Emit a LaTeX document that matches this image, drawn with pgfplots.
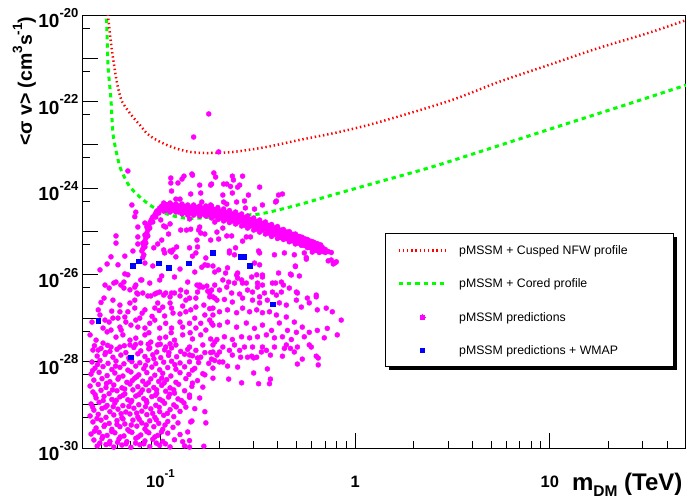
\documentclass[border=0pt]{standalone}
\usepackage{fontspec}
\setmainfont{Liberation Sans}
\usepackage{pgfplots}
\pgfplotsset{compat=1.18}
\definecolor{mag}{RGB}{255,0,255}
\definecolor{rred}{RGB}{255,0,0}
\definecolor{ggreen}{RGB}{0,255,0}
\definecolor{bblue}{RGB}{0,0,255}
\pgfplotsset{
  redleg/.style={legend image code/.code={\draw[draw=rred, line width=2.5pt, dash pattern=on 1.4pt off 2.8pt] (0pt,0pt) -- (48pt,0pt);}},
  greenleg/.style={legend image code/.code={\draw[draw=ggreen, line width=3pt, dash pattern=on 4.3pt off 4pt] (0pt,0pt) -- (48pt,0pt);}},
  magleg/.style={legend image code/.code={\path[mark=*, mark size=2.5pt, mark options={draw=mag, fill=mag, line width=0pt}] plot coordinates {(24pt,0pt)};}},
  blueleg/.style={legend image code/.code={\path[mark=square*, mark size=2.3pt, mark options={draw=bblue, fill=bblue, line width=0pt}] plot coordinates {(24pt,0pt)};}},
}
\newcommand{\tl}[1]{\fontsize{19}{19}\selectfont\bfseries 10\raisebox{0.55em}{\fontsize{13}{13}\selectfont\bfseries #1}}
\newcommand{\xl}[1]{\fontsize{16.5}{16.5}\selectfont\bfseries 10\raisebox{0.55em}{\fontsize{11.5}{11.5}\selectfont\bfseries #1}}
\newcommand{\tn}[1]{\fontsize{16.5}{16.5}\selectfont\bfseries #1}
\newcommand{\ysup}[1]{\raisebox{0.5em}{\fontsize{13.5}{13.5}\selectfont\bfseries #1}}
\newcommand{\lent}[1]{\makebox[205pt][l]{\rule[-3pt]{0pt}{12pt}#1}}
\begin{document}
\begin{tikzpicture}
\useasboundingbox (-83pt,-52pt) rectangle (606pt,448pt);
\begin{axis}[
  at={(0pt,0pt)}, anchor=south west,
  scale only axis, width=603pt, height=433pt,
  xmode=log, ymode=log,
  xmin=0.04, xmax=50, ymin=1e-30, ymax=1e-20,
  axis line style={line width=1pt},
  tick align=inside, tick pos=left,
  major tick length=15pt, minor tick length=7.5pt,
  every tick/.style={black, line width=1pt},
  xtick={0.1,1,10},
  xticklabels={\xl{-1},\tn{1},\tn{10}},
  minor xtick={0.04,0.05,0.06,0.07,0.08,0.09,0.2,0.3,0.4,0.5,0.6,0.7,0.8,0.9,2,3,4,5,6,7,8,9,20,30,40,50},
  ytick={1e-30,1e-29,1e-28,1e-27,1e-26,1e-25,1e-24,1e-23,1e-22,1e-21,1e-20},
  yticklabels={\tl{-30},,\tl{-28},,\tl{-26},,\tl{-24},,\tl{-22},,\tl{-20}},
  minor ytick={5e-30,5e-29,5e-28,5e-27,5e-26,5e-25,5e-24,5e-23,5e-22,5e-21},
  xticklabel style={anchor=base, inner sep=0pt, yshift=-39pt},
  yticklabel style={anchor=east, inner sep=0pt, xshift=-4.5pt, yshift=-3pt},
  xlabel={\fontsize{24}{24}\selectfont\bfseries m\raisebox{-0.25em}{\fontsize{15.5}{15.5}\selectfont\bfseries DM} (TeV)},
  ylabel={\fontsize{19.5}{19.5}\selectfont\bfseries <σ v> (cm\ysup{3}s\ysup{-1})},
  every axis x label/.style={at={(axis description cs:1,-0.097)}, anchor=base east},
  every axis y label/.style={at={(axis description cs:-0.0846,1.0046)}, anchor=base east, rotate=90},
  legend style={at={(0.5008,0.4965)}, anchor=north west, draw=none, fill=none,
    font=\fontsize{12.3}{14}\selectfont, inner xsep=12pt, inner ysep=12pt,
    row sep=22.9pt, column sep=11pt, cells={anchor=west}, nodes={inner sep=0pt}},
  clip=true,
]
\addlegendimage{redleg}
\addlegendentry{\lent{pMSSM + Cusped NFW profile}}
\addlegendimage{greenleg}
\addlegendentry{\lent{pMSSM + Cored profile}}
\addlegendimage{magleg}
\addlegendentry{\lent{pMSSM predictions}}
\addlegendimage{blueleg}
\addlegendentry{\lent{pMSSM predictions + WMAP}}

% pMSSM predictions
\addplot[forget plot, only marks, mark=*, mark size=2.5pt, color=mag, mark options={draw=none, fill=mag}] coordinates {
(0.177,5.2e-23) (0.148,1.52e-23) (0.199,6.9e-24)
(0.068,2.5e-24) (0.113,1.72e-24) (0.113,1.32e-24) (0.123,1.32e-24) (0.132,1.9e-24) (0.129,1.63e-24) (0.145,2.13e-24) (0.188,2.25e-24) (0.192,1.81e-24) (0.159,1.18e-24) (0.181,1.18e-24) (0.114,8.6e-25) (0.143,7.35e-25) (0.161,7.75e-25) (0.120,5.6e-25) (0.126,5.6e-25) (0.163,4.8e-25) (0.181,4.1e-25) (0.0713,4.1e-25) (0.0747,2.8e-25) (0.0738,2.2e-25) (0.0832,1.57e-25) (0.0765,1.27e-25) (0.0591,7.9e-26) (0.0591,5.4e-26) (0.0765,7.5e-26) (0.0765,5.15e-26) (0.0722,3.55e-26) (0.234,1.9e-24) (0.264,1.9e-24) (0.237,1.55e-24) (0.211,1.25e-24) (0.219,1.25e-24) (0.229,1.1e-24) (0.249,1.06e-24) (0.255,1.18e-24) (0.323,1.06e-24) (0.183,1.25e-24) (0.209,6.96e-25) (0.234,7.75e-25) (0.283,6.96e-25) (0.423,7.35e-25) (0.404,6.96e-25) (0.390,4.8e-25) (0.211,4.8e-25) (0.219,4.3e-25) (0.246,4.8e-25) (0.270,5.06e-25) (0.334,4.1e-25) (0.146,2.0e-24) (0.394,5.06e-25) (0.273,3.5e-25) (0.304,3.3e-25)
(0.0968,5.15e-26) (0.1015,6.35e-26) (0.0924,4.2e-26) (0.1039,3.75e-26) (0.112,3.55e-26) (0.116,3.75e-26) (0.121,4.4e-26) (0.141,4.2e-26) (0.155,4.4e-26) (0.110,8.75e-26) (0.1003,1.85e-25) (0.1039,1.34e-25) (0.1064,1.27e-25) (0.112,1.5e-25) (0.127,1.08e-25) (0.136,1.08e-25) (0.143,1.13e-25) (0.157,1.08e-25) (0.161,9.2e-26) (0.169,8.75e-26) (0.181,6.35e-26) (0.154,6.35e-26) (0.159,1.27e-25) (0.190,1.65e-25) (0.141,1.95e-25) (0.195,9.7e-26) (0.199,6.7e-26) (0.209,1.2e-25) (0.219,7.9e-26) (0.232,7.9e-26) (0.264,6.0e-26) (0.276,7.5e-26) (0.290,7.5e-26) (0.319,3.55e-26) (0.243,4.2e-26) (0.226,3.55e-26) (0.487,2.9e-26) (0.561,2.3e-26) (0.727,2.1e-26) (0.800,2.0e-26) (0.772,1.78e-26) (0.493,1.6e-26) (0.465,1.04e-26) (0.428,5.8e-27) (0.499,4.0e-27) (0.631,3.4e-27) (0.404,1.1e-26) (0.390,6.45e-27) (0.334,9.9e-27) (0.315,5.2e-27) (0.264,6.45e-27) (0.246,9.9e-27) (0.224,6.8e-27) (0.209,7.6e-27) (0.216,1.1e-26) (0.199,1.3e-26) (0.186,1.6e-26) (0.169,1.7e-26) (0.126,1.36e-26) (0.0913,1.6e-26) (0.1015,9.4e-27) (0.150,1.16e-26) (0.154,5.8e-27) (0.159,5.2e-27) (0.173,5.5e-27) (0.155,4.0e-27) (0.175,4.2e-27) (0.0957,3.8e-27) (0.114,3.8e-27) (0.126,3.25e-27) (0.136,4.0e-27) (0.186,3.1e-27) (0.232,3.8e-27) (0.255,3.6e-27) (0.280,4.45e-27) (0.323,3.1e-27) (0.394,3.4e-27) (0.0861,3.25e-27) (0.0656,1.05e-26) (0.068,1.0e-26) (0.0576,6.45e-27) (0.0545,4.95e-27) (0.0513,2.9e-27) (0.0626,5.8e-27) (0.0738,5.2e-27) (0.0765,3.6e-27) (0.0802,7.6e-27) (0.0557,2.6e-26) (0.0532,1.78e-26) (0.0656,2.7e-26) (0.0821,2.9e-26) (0.0811,2.5e-26) (0.0832,1.87e-26) (0.105,3.2e-26) (0.114,3.35e-26) (0.120,2.6e-26) (0.146,2.7e-26) (0.152,3.2e-26) (0.163,1.5e-26) (0.175,1.65e-26) (0.171,2.45e-26)
(0.226,3.2e-26) (0.240,2.9e-26) (0.323,3.2e-26) (0.385,2.9e-26) (0.433,3.2e-26) (0.548,3.2e-26) (0.602,3.35e-26) (0.754,2.2e-26) (0.790,1.9e-26) (0.190,1.16e-26) (0.221,1.45e-26) (0.249,1.1e-26) (0.249,8.4e-27) (0.304,1.87e-26) (0.323,1.7e-26) (0.312,1.0e-26) (0.294,8.9e-27) (0.334,8.9e-27) (0.315,6.45e-27) (0.334,5.8e-27) (0.376,6.45e-27) (0.418,6.8e-27) (0.470,9.9e-27) (0.517,9.4e-27) (0.493,1.55e-26) (0.561,2.5e-26) (0.459,4.95e-27) (0.505,3.8e-27) (0.568,2.9e-27) (0.631,3.1e-27) (0.418,4.0e-27) (0.376,4.0e-27) (0.342,3.8e-27) (0.297,4.0e-27) (0.276,6.45e-27) (0.261,7.6e-27) (0.240,6.45e-27) (0.219,5.2e-27) (0.201,4.45e-27) (0.190,5.8e-27) (0.179,3.1e-27) (0.195,2.6e-27) (0.213,2.7e-27) (0.234,2.35e-27) (0.264,2.9e-27) (0.297,2.6e-27) (0.323,2.25e-27) (0.354,2.6e-27) (0.408,2.25e-27) (0.443,2.0e-27) (0.499,2.6e-27) (0.529,1.8e-27) (0.581,2.25e-27) (0.639,1.55e-27) (0.710,1.7e-27) (0.763,1.4e-27) (0.848,9.0e-28) (0.809,4.1e-28) (0.719,5.8e-28) (0.639,5.2e-28) (0.581,4.7e-28) (0.535,6.2e-28) (0.487,8.1e-28) (0.443,1.06e-27) (0.394,1.18e-27) (0.363,1.4e-27) (0.334,1.33e-27) (0.312,1.55e-27) (0.287,1.4e-27) (0.264,1.7e-27) (0.246,1.33e-27) (0.221,1.55e-27) (0.201,1.4e-27) (0.186,1.7e-27) (0.183,7.7e-28) (0.201,6.9e-28) (0.221,8.1e-28) (0.246,6.2e-28) (0.276,7.7e-28) (0.304,5.8e-28) (0.334,6.9e-28) (0.372,5.2e-28) (0.408,7.7e-28) (0.449,5.2e-28) (0.499,4.7e-28) (0.548,3.7e-28) (0.470,3.2e-28) (0.423,3.7e-28) (0.385,3.5e-28) (0.350,4.1e-28) (0.315,3.7e-28) (0.287,3.5e-28) (0.261,3.7e-28) (0.234,3.2e-28) (0.213,3.7e-28) (0.195,3.2e-28) (0.186,2.4e-28) (0.209,2.15e-28) (0.240,2.4e-28) (0.270,2.15e-28) (0.297,2.15e-28) (0.334,2.15e-28) (0.385,2.15e-28) (0.443,2.4e-28) (0.505,2.15e-28) (0.581,2.4e-28) (0.694,3.5e-28)
(0.186,1.65e-28) (0.201,1.65e-28) (0.195,1.4e-28) (0.183,1.13e-28) (0.186,7.0e-29) (0.201,9.7e-29) (0.209,9.7e-29) (0.221,7.8e-29) (0.226,1.8e-28) (0.234,1.4e-28) (0.255,1.8e-28) (0.258,1.25e-28) (0.249,7.4e-29) (0.280,1.25e-28) (0.294,1.32e-28) (0.301,1.2e-28) (0.312,1.25e-28) (0.330,1.65e-28) (0.350,1.8e-28) (0.367,1.4e-28) (0.423,1.32e-28) (0.433,2.0e-28) (0.465,2.0e-28) (0.487,1.65e-28) (0.535,1.13e-28) (0.595,2.15e-28) (0.631,1.32e-28) (0.646,1.2e-28) (0.646,8.3e-29) (0.505,8.7e-29) (0.301,5.4e-29) (0.354,6.7e-29) (0.224,3.9e-29) (0.261,3.2e-29) (0.319,3.05e-29) (0.367,3.9e-29) (0.363,3.05e-29)
(0.0591,6.8e-27) (0.0649,6.8e-27) (0.0649,4.95e-27) (0.0747,5.8e-27) (0.0756,3.8e-27) (0.0811,3.8e-27) (0.0792,7.6e-27) (0.0892,3.25e-27) (0.0935,3.6e-27) (0.0991,4.0e-27) (0.1039,3.4e-27) (0.1064,3.8e-27) (0.112,3.1e-27) (0.118,3.8e-27) (0.127,4.45e-27) (0.135,2.6e-27) (0.141,2.9e-27) (0.152,2.9e-27) (0.159,5.8e-27) (0.165,5.2e-27) (0.179,3.8e-27) (0.183,4.45e-27) (0.190,2.9e-27) (0.0935,1.71e-27) (0.0968,2.23e-27) (0.1027,1.8e-27) (0.112,2.23e-27) (0.116,1.31e-27) (0.130,1.9e-27) (0.135,1.4e-27) (0.143,1.55e-27) (0.152,1.8e-27) (0.167,2.0e-27) (0.179,1.65e-27) (0.186,1.18e-27) (0.0619,2.0e-27) (0.0697,2.23e-27) (0.0738,1.71e-27) (0.0619,1.4e-27) (0.0656,1.06e-27) (0.0605,1.0e-27) (0.0570,1.0e-27) (0.0545,8.1e-28) (0.0519,9.0e-28) (0.0507,5.9e-28) (0.0532,4.8e-28) (0.0557,5.3e-28) (0.0619,6.2e-28) (0.0664,8.1e-28) (0.0705,6.9e-28) (0.0747,9.0e-28) (0.0765,6.2e-28) (0.0832,5.9e-28) (0.0881,7.6e-28) (0.0935,9.0e-28) (0.0991,5.9e-28) (0.1064,7.6e-28) (0.114,5.9e-28) (0.126,8.1e-28) (0.130,6.2e-28) (0.141,7.6e-28) (0.152,5.9e-28) (0.161,7.6e-28) (0.171,5.3e-28) (0.186,6.9e-28) (0.179,9.0e-28) (0.0591,3.65e-28) (0.0641,4.1e-28) (0.0697,3.1e-28) (0.0747,3.45e-28) (0.0832,4.1e-28) (0.0892,2.8e-28) (0.0991,3.45e-28) (0.1064,3.65e-28) (0.118,3.1e-28) (0.130,4.1e-28) (0.146,3.3e-28) (0.161,4.1e-28) (0.181,3.3e-28) (0.0507,2.65e-28) (0.0557,2.15e-28) (0.0619,2.15e-28) (0.0697,2.4e-28) (0.0792,2.65e-28) (0.0881,2.05e-28) (0.0968,2.4e-28) (0.1064,2.15e-28) (0.120,2.4e-28) (0.141,2.15e-28) (0.165,2.4e-28) (0.190,2.8e-28) (0.0467,3.1e-28) (0.0479,1.83e-28)
(0.0489,1.3e-26) (0.0495,2.3e-27) (0.0479,1.55e-27) (0.0570,2.6e-27) (0.0697,4.5e-27) (0.0881,6.45e-27) (0.138,6.8e-27) (0.118,8.9e-27) (0.0991,7.6e-27) (0.0605,1.7e-26) (0.0519,5.8e-27) (0.0738,2.6e-27) (0.0832,1.55e-27) (0.105,1.12e-27) (0.126,1.25e-27) (0.150,1.0e-27) (0.169,1.18e-27) (0.0489,1.18e-27) (0.0783,1.0e-27) (0.068,1.4e-27) (0.0445,8.1e-28) (0.0435,4.1e-28)
(0.045,1.83e-28) (0.0495,2.0e-28) (0.0550,1.7e-28) (0.0598,1.9e-28) (0.0664,1.6e-28) (0.073,2.1e-28) (0.0792,1.75e-28) (0.0871,1.95e-28) (0.0957,1.65e-28) (0.105,1.85e-28) (0.114,2.05e-28) (0.127,1.7e-28) (0.138,1.9e-28) (0.152,1.8e-28) (0.169,1.6e-28)
(0.0473,1.33e-28) (0.0519,1.45e-28) (0.057,1.25e-28) (0.0626,1.4e-28) (0.0688,1.2e-28) (0.0765,1.5e-28) (0.0832,1.3e-28) (0.0913,1.42e-28) (0.1003,1.22e-28) (0.110,1.38e-28) (0.121,1.28e-28) (0.133,1.47e-28) (0.146,1.35e-28) (0.161,1.25e-28)
(0.0445,9.7e-29) (0.0489,1.05e-28) (0.0538,9.0e-29) (0.0591,1.02e-28) (0.0649,8.8e-29) (0.0713,9.9e-29) (0.0783,9.3e-29) (0.0861,1.06e-28) (0.0946,8.9e-29) (0.1039,9.6e-29) (0.114,1.01e-28) (0.126,9.2e-29) (0.141,9.8e-29) (0.157,9.4e-29) (0.177,9.0e-29)
(0.0461,7.0e-29) (0.0507,7.6e-29) (0.0563,6.5e-29) (0.0619,7.3e-29) (0.068,6.3e-29) (0.0747,7.8e-29) (0.0821,6.8e-29) (0.0903,7.4e-29) (0.0991,6.4e-29) (0.109,7.2e-29) (0.120,6.6e-29) (0.133,7.5e-29) (0.150,6.9e-29)
(0.044,5.1e-29) (0.0484,5.6e-29) (0.0532,4.7e-29) (0.0583,5.4e-29) (0.0641,4.6e-29) (0.0705,5.7e-29) (0.0774,4.9e-29) (0.0851,5.5e-29) (0.0935,4.8e-29) (0.1027,5.3e-29) (0.113,4.6e-29) (0.126,5.5e-29) (0.140,5.0e-29) (0.165,5.2e-29)
(0.0455,3.7e-29) (0.0501,4.0e-29) (0.055,3.4e-29) (0.0605,3.9e-29) (0.0672,3.3e-29) (0.0738,4.1e-29) (0.0811,3.5e-29) (0.0892,3.95e-29) (0.098,3.45e-29) (0.1077,3.8e-29) (0.120,3.3e-29) (0.135,4.0e-29) (0.155,3.6e-29)
(0.0435,2.7e-29) (0.0479,2.95e-29) (0.0525,2.5e-29) (0.0576,2.85e-29) (0.0634,2.45e-29) (0.0697,3.0e-29) (0.0765,2.6e-29) (0.0841,2.9e-29) (0.0924,2.5e-29) (0.1015,2.8e-29) (0.112,2.45e-29) (0.124,2.95e-29) (0.145,2.65e-29)
(0.045,1.97e-29) (0.0495,2.15e-29) (0.0545,1.8e-29) (0.0598,2.1e-29) (0.0656,1.78e-29) (0.0722,2.2e-29) (0.0792,1.9e-29) (0.0871,2.12e-29) (0.0957,1.82e-29) (0.1064,2.05e-29) (0.118,1.85e-29) (0.133,2.1e-29)
(0.0467,1.43e-29) (0.0513,1.56e-29) (0.0563,1.32e-29) (0.0619,1.52e-29) (0.068,1.3e-29) (0.0747,1.58e-29) (0.0821,1.38e-29) (0.0903,1.54e-29) (0.0991,1.33e-29) (0.110,1.5e-29) (0.123,1.36e-29) (0.141,1.48e-29)
(0.044,1.04e-29) (0.0484,1.13e-29) (0.0532,9.6e-30) (0.0583,1.1e-29) (0.0641,9.5e-30) (0.0705,1.15e-29) (0.0774,1.0e-29) (0.0851,1.12e-29) (0.0946,9.7e-30) (0.105,1.08e-29) (0.117,9.9e-30) (0.132,1.1e-29)
(0.0455,7.5e-30) (0.0501,8.2e-30) (0.055,6.9e-30) (0.0605,7.9e-30) (0.0664,6.8e-30) (0.073,8.3e-30) (0.0802,7.1e-30) (0.0892,8.0e-30) (0.0991,6.9e-30) (0.112,7.7e-30) (0.126,7.0e-30) (0.150,8.1e-30)
(0.0435,5.5e-30) (0.0479,6.0e-30) (0.0525,5.1e-30) (0.0576,5.8e-30) (0.0634,5.0e-30) (0.0697,6.1e-30) (0.0765,5.2e-30) (0.0851,5.9e-30) (0.0935,5.1e-30) (0.1039,5.7e-30) (0.117,5.3e-30)
(0.045,4.0e-30) (0.0495,4.4e-30) (0.0545,3.7e-30) (0.0598,4.3e-30) (0.0656,3.6e-30) (0.0722,4.4e-30) (0.0802,3.8e-30) (0.0881,4.25e-30) (0.098,3.7e-30) (0.109,4.1e-30) (0.123,3.8e-30) (0.145,4.2e-30)
(0.0467,2.9e-30) (0.0513,3.15e-30) (0.0563,2.7e-30) (0.0619,3.1e-30) (0.068,2.65e-30) (0.0756,3.2e-30) (0.0832,2.75e-30) (0.0924,3.1e-30) (0.1027,2.7e-30) (0.116,3.0e-30)
(0.044,2.1e-30) (0.0484,2.3e-30) (0.0532,1.95e-30) (0.0583,2.25e-30) (0.0649,1.9e-30) (0.0713,2.3e-30) (0.0792,2.0e-30) (0.0871,2.25e-30) (0.0968,1.95e-30) (0.109,2.2e-30) (0.126,2.05e-30)
(0.0455,1.53e-30) (0.0501,1.66e-30) (0.055,1.42e-30) (0.0612,1.62e-30) (0.0672,1.4e-30) (0.0747,1.68e-30) (0.0832,1.46e-30) (0.0913,1.6e-30) (0.1027,1.42e-30) (0.118,1.55e-30) (0.141,1.48e-30)
(0.0473,1.11e-30) (0.0525,1.2e-30) (0.0576,1.05e-30) (0.0634,1.17e-30) (0.0705,1.04e-30) (0.0783,1.19e-30) (0.0881,1.08e-30) (0.0991,1.15e-30) (0.112,1.06e-30) (0.133,1.12e-30) (0.167,1.1e-30)
(0.141,1.41e-28) (0.155,1.2e-28) (0.181,1.6e-28) (0.190,1.05e-28) (0.146,6.3e-29) (0.169,4.9e-29) (0.146,3.15e-29) (0.165,2.55e-29) (0.186,4.1e-29) (0.141,1.67e-29) (0.159,1.43e-29) (0.135,8.8e-30) (0.169,6.9e-30) (0.143,4.0e-30) (0.171,3.8e-30) (0.138,2.35e-30) (0.130,1.4e-30) (0.141,1.05e-30)
(0.0475,8.5e-29) (0.0522,1.6e-28) (0.0588,7.8e-29) (0.0612,4.3e-29) (0.0693,1.1e-28) (0.0755,4.4e-29) (0.0838,8.1e-29) (0.0925,1.15e-28) (0.1015,4.1e-29) (0.1105,1.6e-28) (0.1185,8.4e-29) (0.0448,6.1e-29) (0.0528,3.1e-29) (0.0567,2.2e-29) (0.0655,2.3e-29) (0.0716,3.6e-29) (0.0808,2.2e-29) (0.0866,3.2e-29) (0.0955,2.2e-29) (0.1045,3.2e-29) (0.117,2.2e-29) (0.0462,1.7e-29) (0.0508,1.25e-29) (0.0594,1.27e-29) (0.0642,1.65e-29) (0.0712,1.25e-29) (0.0772,1.7e-29) (0.0845,1.25e-29) (0.0942,1.65e-29) (0.1025,1.22e-29) (0.1115,1.75e-29) (0.128,1.25e-29) (0.0448,8.9e-30) (0.0522,8.8e-30) (0.0572,9.0e-30) (0.0628,6.2e-30) (0.0688,9.1e-30) (0.0755,6.4e-30) (0.0838,9.0e-30) (0.0912,6.3e-30) (0.0985,8.7e-30) (0.1085,6.3e-30) (0.1205,8.9e-30) (0.0472,4.8e-30) (0.0518,3.4e-30) (0.0598,3.5e-30) (0.0642,4.7e-30) (0.0708,3.4e-30) (0.0778,4.6e-30) (0.0845,3.4e-30) (0.0952,4.5e-30) (0.1055,3.4e-30) (0.0458,2.45e-30) (0.0505,1.85e-30) (0.0562,2.4e-30) (0.0622,1.8e-30) (0.0692,2.45e-30) (0.0768,1.8e-30) (0.0851,2.4e-30) (0.0935,1.8e-30) (0.1012,2.35e-30) (0.0488,1.3e-30) (0.0548,1.25e-30) (0.0602,1.35e-30) (0.0665,1.25e-30) (0.0745,1.3e-30) (0.0822,1.25e-30) (0.0952,1.3e-30) (0.106,1.25e-30) (0.0458,2.3e-28) (0.0535,2.35e-28) (0.0652,2.3e-28) (0.0745,2.45e-28) (0.0865,2.5e-28) (0.0998,2.5e-28) (0.112,2.55e-28) (0.0628,5.3e-28) (0.0872,4.6e-28) (0.1135,4.6e-28) (0.142,4.6e-28) (0.0562,1.45e-27) (0.0805,1.3e-27) (0.0985,1.5e-27) (0.0905,1.1e-27) (0.114,1.7e-27)
(0.0811,3.95e-26) (0.0821,4.6e-26) (0.0811,5.4e-26) (0.0832,6.0e-26) (0.0841,7.1e-26) (0.0832,8.3e-26) (0.0851,9.2e-26) (0.0861,1.08e-25) (0.0851,1.27e-25) (0.0871,1.34e-25) (0.0881,1.57e-25) (0.0892,1.75e-25) (0.0903,1.94e-25) (0.0913,2.16e-25) (0.0935,2.40e-25) (0.0946,2.67e-25) (0.0957,2.97e-25) (0.0980,3.14e-25) (0.0991,3.49e-25) (0.1003,3.31e-25) (0.1015,3.88e-25) (0.1027,3.68e-25) (0.0841,5.4e-26) (0.0861,7.9e-26) (0.0881,1.20e-25) (0.0913,1.66e-25) (0.0946,2.16e-25) (0.0980,2.67e-25) (0.0832,4.4e-26) (0.0802,3.55e-26)
(0.1039,4.55e-25) (0.1039,3.49e-25) (0.1039,2.97e-25) (0.1077,4.09e-25) (0.1077,3.14e-25) (0.112,4.55e-25) (0.112,3.49e-25) (0.112,2.82e-25) (0.116,3.68e-25) (0.116,3.14e-25) (0.120,4.31e-25) (0.120,3.31e-25) (0.120,2.82e-25) (0.124,3.68e-25) (0.124,2.82e-25) (0.129,4.31e-25) (0.129,3.31e-25) (0.129,2.54e-25) (0.133,3.68e-25) (0.133,2.75e-25) (0.138,4.09e-25) (0.138,3.14e-25) (0.138,2.40e-25) (0.143,3.49e-25) (0.143,2.67e-25) (0.148,4.09e-25) (0.148,3.14e-25) (0.148,2.40e-25) (0.154,3.58e-25) (0.154,2.67e-25) (0.159,3.88e-25) (0.159,2.97e-25) (0.159,2.28e-25) (0.165,3.31e-25) (0.165,2.54e-25) (0.171,3.88e-25) (0.171,2.97e-25) (0.171,2.28e-25) (0.177,3.22e-25) (0.177,2.47e-25) (0.183,3.88e-25) (0.183,2.82e-25) (0.183,2.05e-25) (0.190,3.14e-25) (0.190,2.28e-25) (0.197,3.58e-25) (0.197,2.6e-25) (0.197,1.89e-25) (0.204,2.82e-25) (0.204,2.05e-25) (0.211,3.31e-25) (0.211,2.40e-25) (0.211,1.75e-25) (0.219,2.67e-25) (0.219,1.94e-25) (0.226,3.05e-25) (0.226,2.22e-25) (0.226,1.61e-25) (0.234,2.40e-25) (0.234,1.75e-25) (0.243,2.82e-25) (0.243,2.05e-25) (0.243,1.49e-25) (0.252,2.28e-25) (0.252,1.66e-25) (0.261,2.54e-25) (0.261,1.84e-25) (0.261,1.34e-25) (0.270,1.94e-25) (0.270,1.41e-25) (0.280,2.28e-25) (0.280,1.66e-25) (0.280,1.20e-25) (0.290,1.84e-25) (0.290,1.34e-25) (0.301,2.05e-25) (0.301,1.49e-25) (0.301,1.08e-25) (0.312,1.57e-25) (0.312,1.14e-25) (0.323,1.84e-25) (0.323,1.34e-25) (0.323,9.7e-26) (0.334,1.49e-25) (0.334,1.08e-25) (0.346,1.66e-25) (0.346,1.20e-25) (0.346,8.75e-26) (0.359,1.27e-25) (0.359,9.2e-26) (0.372,1.45e-25) (0.372,1.05e-25) (0.372,7.7e-26) (0.385,1.17e-25) (0.385,8.5e-26) (0.399,1.30e-25) (0.399,9.45e-26) (0.399,6.9e-26) (0.413,1.0e-25) (0.413,7.3e-26) (0.428,1.11e-25) (0.428,8.5e-26) (0.428,6.55e-26) (0.443,9.45e-26) (0.443,6.9e-26) (0.459,9.9e-26) (0.459,7.6e-26) (0.459,5.8e-26) (0.476,8.0e-26) (0.476,6.1e-26) (0.493,8.75e-26) (0.493,6.7e-26) (0.493,5.15e-26) (0.511,7.5e-26) (0.511,5.4e-26) (0.529,7.35e-26) (0.529,5.9e-26) (0.529,4.8e-26) (0.548,6.2e-26) (0.548,4.75e-26) (0.568,6.5e-26) (0.568,5.25e-26) (0.568,4.25e-26) (0.588,5.4e-26) (0.588,4.2e-26) (0.609,5.7e-26) (0.609,4.6e-26) (0.609,3.75e-26) (0.631,4.75e-26) (0.631,3.65e-26) (0.654,4.75e-26) (0.654,3.85e-26) (0.654,3.28e-26) (0.678,4.3e-26) (0.678,3.45e-26) (0.702,3.85e-26) (0.702,3.28e-26) (0.727,3.45e-26) (0.754,3.28e-26)
(0.1057,4.24e-25) (0.1057,3.35e-25) (0.1095,4.18e-25) (0.1095,3.29e-25) (0.1135,4.11e-25) (0.1135,3.24e-25) (0.1175,4.05e-25) (0.1175,3.18e-25) (0.1218,3.96e-25) (0.1218,3.12e-25) (0.1263,3.88e-25) (0.1263,3.05e-25) (0.131,3.82e-25) (0.131,3.0e-25) (0.1357,3.76e-25) (0.1357,2.95e-25) (0.1408,3.7e-25) (0.1408,2.91e-25) (0.146,3.66e-25) (0.146,2.88e-25) (0.1512,3.6e-25) (0.1512,2.84e-25) (0.1569,3.56e-25) (0.1569,2.79e-25) (0.1626,3.51e-25) (0.1626,2.76e-25) (0.1686,3.45e-25) (0.1686,2.71e-25) (0.1748,3.42e-25) (0.1748,2.68e-25) (0.1812,3.38e-25) (0.1812,2.64e-25) (0.1878,3.24e-25) (0.1878,2.55e-25) (0.1948,3.12e-25) (0.1948,2.46e-25) (0.2019,2.98e-25) (0.2019,2.35e-25) (0.2094,2.88e-25) (0.2094,2.27e-25) (0.2171,2.76e-25) (0.2171,2.17e-25) (0.2251,2.64e-25) (0.2251,2.09e-25) (0.2333,2.55e-25) (0.2333,2.01e-25) (0.2419,2.46e-25) (0.2419,1.93e-25) (0.2508,2.35e-25) (0.2508,1.85e-25) (0.260,2.23e-25) (0.260,1.76e-25) (0.2696,2.1e-25) (0.2696,1.66e-25) (0.2795,2.0e-25) (0.2795,1.57e-25) (0.2898,1.89e-25) (0.2898,1.49e-25) (0.3004,1.8e-25) (0.3004,1.41e-25) (0.3115,1.7e-25) (0.3115,1.34e-25) (0.3229,1.61e-25) (0.3229,1.27e-25) (0.3348,1.53e-25) (0.3348,1.2e-25) (0.3471,1.45e-25) (0.3471,1.14e-25) (0.3599,1.38e-25) (0.3599,1.08e-25) (0.3731,1.28e-25) (0.3731,1.01e-25) (0.3868,1.21e-25) (0.3868,9.5e-26) (0.401,1.14e-25) (0.401,9.0e-26) (0.4158,1.08e-25) (0.4158,8.5e-26) (0.431,1.03e-25) (0.431,8.1e-26) (0.447,9.7e-26) (0.447,7.7e-26) (0.463,9.2e-26) (0.463,7.3e-26) (0.480,8.6e-26) (0.480,6.8e-26) (0.498,8.1e-26) (0.498,6.4e-26) (0.516,7.7e-26) (0.516,6.0e-26) (0.535,7.3e-26) (0.535,5.7e-26) (0.555,6.7e-26) (0.555,5.3e-26) (0.575,6.3e-26) (0.575,5.0e-26) (0.596,5.9e-26) (0.596,4.65e-26) (0.618,5.5e-26) (0.618,4.4e-26) (0.641,5.2e-26) (0.641,4.15e-26) (0.665,4.9e-26) (0.665,3.85e-26)
};
% pMSSM predictions + WMAP
\addplot[forget plot, only marks, mark=square*, mark size=2.3pt, color=bblue, mark options={draw=none, fill=bblue}] coordinates {
(0.0722,1.6e-26) (0.0774,2.05e-26) (0.0980,1.87e-26) (0.110,1.45e-26) (0.140,1.87e-26) (0.186,3.2e-26) (0.258,2.6e-26) (0.267,2.6e-26) (0.287,1.6e-26) (0.0479,8.6e-28) (0.0705,1.26e-28) (0.376,2.1e-27)
};
% Cored profile
\addplot[forget plot, draw=ggreen, line width=3pt, dash pattern=on 4.3pt off 4pt, smooth] coordinates {
(0.0522,2e-20) (0.0527,1e-20) (0.0533,2.5e-21) (0.0538,6.3e-22) (0.0548,2.5e-22) (0.0557,1.1e-22) (0.0563,4.4e-23) (0.0570,1.86e-23) (0.0583,1.0e-23) (0.0598,5.85e-24) (0.0619,3.1e-24) (0.0656,1.72e-24) (0.0697,1.07e-24) (0.0783,6.3e-25) (0.0913,3.7e-25) (0.112,2.4e-25) (0.141,2.0e-25) (0.179,2.15e-25) (0.226,2.4e-25) (0.323,2.54e-25) (0.517,4.2e-25) (0.763,6.97e-25) (1.375,1.47e-24) (2.48,3.1e-24) (4.47,7.2e-24) (8.06,1.69e-23) (14.5,3.96e-23) (26.2,9.3e-23) (50,2.4e-22)
};
% Cusped NFW profile
\addplot[forget plot, draw=rred, line width=2.5pt, dash pattern=on 1.4pt off 2.8pt, smooth] coordinates {
(0.0530,2e-20) (0.0537,1e-20) (0.0563,1.55e-21) (0.0598,2.7e-22) (0.063,1.09e-22) (0.0672,6.75e-23) (0.0722,4.4e-23) (0.0783,2.9e-23) (0.0851,1.86e-23) (0.0935,1.37e-23) (0.1027,1.1e-23) (0.118,8.5e-24) (0.141,6.9e-24) (0.173,6.5e-24) (0.234,6.85e-24) (0.350,8.95e-24) (0.517,1.3e-23) (0.828,1.99e-23) (1.33,3.38e-23) (3.03,1.03e-22) (5.46,2.84e-22) (9.85,7.0e-22) (17.8,1.73e-21) (32.0,3.84e-21) (50,7.6e-21)
};
% legend box and its shadow (decoration)
\fill[black] (axis description cs:0.5075,0.1801) rectangle (axis description cs:0.9851,0.4873);
\filldraw[fill=white, draw=black, line width=0.8pt] (axis description cs:0.5008,0.1894) rectangle (axis description cs:0.9784,0.4965);
\end{axis}
\end{tikzpicture}
\end{document}
